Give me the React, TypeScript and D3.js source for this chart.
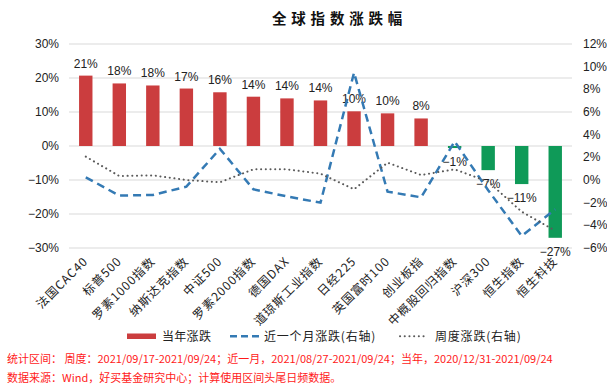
import * as d3 from 'd3';

// 指数名称
const categories = [
  '法国CAC40', '标普500', '罗素1000指数', '纳斯达克指数', '中证500',
  '罗素2000指数', '德国DAX', '道琼斯工业指数', '日经225', '英国富时100',
  '创业板指', '中概股回归指数', '沪深300', '恒生指数', '恒生科技',
];
// 当年涨跌 (左轴, %)
const yearChange = [20.7, 18.4, 17.8, 16.9, 15.8, 14.5, 14.0, 13.4, 10.2, 9.6, 8.1, -0.6, -7.1, -11.2, -27.0];
const yearLabels = ['21%', '18%', '18%', '17%', '16%', '14%', '14%', '14%', '10%', '10%', '8%', '−1%', '−7%', '−11%', '−27%'];
// 近一个月涨跌 (右轴, %)
const monthChange = [0.24, -1.38, -1.32, -0.59, 2.75, -0.82, -1.45, -2.0, 9.47, -1.03, -1.53, 3.4, -0.9, -4.94, -2.59];
// 周度涨跌 (右轴, %)
const weekChange = [2.06, 0.35, 0.41, 0.0, -0.2, 0.94, 0.94, 0.56, -0.82, 1.53, 0.44, 0.94, -0.15, -2.8, -4.47];

const leftTicks = [30, 20, 10, 0, -10, -20, -30];
const rightTicks = [12, 10, 8, 6, 4, 2, 0, -2, -4, -6];

const W = 607;
const H = 388;
const numFont = '"Liberation Sans Narrow", "Arial Narrow", "Liberation Sans", Arial, sans-serif';
const cjkFont = '"Noto Sans CJK SC", "Noto Sans", sans-serif';

const fmt = (v: number) => (v < 0 ? '−' + Math.abs(v) : String(v)) + '%';

export default function App() {
  const x = d3.scaleBand<string>().domain(categories).range([69, 572]).paddingInner(0.6).paddingOuter(0.3);
  const yL = d3.scaleLinear().domain([-30, 30]).range([248, 44]);
  const yR = d3.scaleLinear().domain([-6, 12]).range([248, 44]);
  const cx = (i: number) => (x(categories[i]) as number) + x.bandwidth() / 2;

  const monthLine = d3.line<number>().x((_, i) => cx(i)).y(d => yR(d));
  const weekLine = d3.line<number>().x((_, i) => cx(i)).y(d => yR(d));

  return (
    <svg width={W} height={H} style={{ position: 'absolute', left: 0, top: 0, background: '#fff' }}>
      <text x={272} y={24} fontFamily={cjkFont} fontWeight={700} fontSize={14.5} letterSpacing={4.8} fill="#111">
        全球指数涨跌幅
      </text>

      {leftTicks.map(t => (
        <g key={'g' + t}>
          <line x1={69} x2={572} y1={yL(t)} y2={yL(t)} stroke="#d9d9d9" strokeWidth={1.2} />
          <text x={59} y={yL(t) + 4} textAnchor="end" fontFamily={numFont} fontSize={12} fill="#222">{fmt(t)}</text>
        </g>
      ))}
      {rightTicks.map(t => (
        <text key={'r' + t} x={583} y={yR(t) + 4} fontFamily={numFont} fontSize={12} fill="#222">{fmt(t)}</text>
      ))}

      {yearChange.map((v, i) => (
        <rect key={'b' + i} x={x(categories[i])} width={x.bandwidth()}
          y={Math.min(yL(v), yL(0))} height={Math.abs(yL(v) - yL(0))}
          fill={v >= 0 ? '#cb3d3e' : '#0f9a58'} />
      ))}
      {yearChange.map((v, i) => (
        <text key={'l' + i} x={cx(i)} y={v >= 0 ? yL(v) - 8 : yL(v) + 18} textAnchor="middle"
          fontFamily={numFont} fontSize={12} fill="#222">{yearLabels[i]}</text>
      ))}

      <path d={monthLine(monthChange) || ''} fill="none" stroke="#347ab4" strokeWidth={2.5} strokeDasharray="8,5" />
      <path d={weekLine(weekChange) || ''} fill="none" stroke="#5a5a5a" strokeWidth={2} strokeDasharray="0.1,4.6" strokeLinecap="round" />

      {categories.map((c, i) => (
        <text key={'c' + i} transform={`translate(${cx(i) + 3},${262}) rotate(-45)`} textAnchor="end"
          fontFamily={cjkFont} fontSize={12} letterSpacing={1} fill="#222">{c}</text>
      ))}

      {/* legend */}
      <rect x={127} y={333.5} width={29} height={5.5} fill="#cb3d3e" />
      <text x={162} y={340.5} fontFamily={cjkFont} fontSize={12} letterSpacing={0.3} fill="#222">当年涨跌</text>
      <line x1={230} x2={259} y1={336.3} y2={336.3} stroke="#347ab4" strokeWidth={2.5} strokeDasharray="7,4" />
      <text x={264} y={340.5} fontFamily={cjkFont} fontSize={12} letterSpacing={0.8} fill="#222">近一个月涨跌(右轴)</text>
      <line x1={400} x2={424} y1={336.3} y2={336.3} stroke="#5a5a5a" strokeWidth={2} strokeDasharray="0.1,4.6" strokeLinecap="round" />
      <text x={435} y={340.5} fontFamily={cjkFont} fontSize={12} letterSpacing={0.8} fill="#222">周度涨跌(右轴)</text>

      <text x={7} y={363} fontFamily={cjkFont} fontSize={11} fill="#ff1a1a">
        统计区间： 周度：2021/09/17-2021/09/24；近一月，2021/08/27-2021/09/24；当年，2020/12/31-2021/09/24
      </text>
      <text x={7} y={382} fontFamily={cjkFont} fontSize={11} fill="#ff1a1a">
        数据来源：Wind，好买基金研究中心；计算使用区间头尾日频数据。
      </text>
    </svg>
  );
}
